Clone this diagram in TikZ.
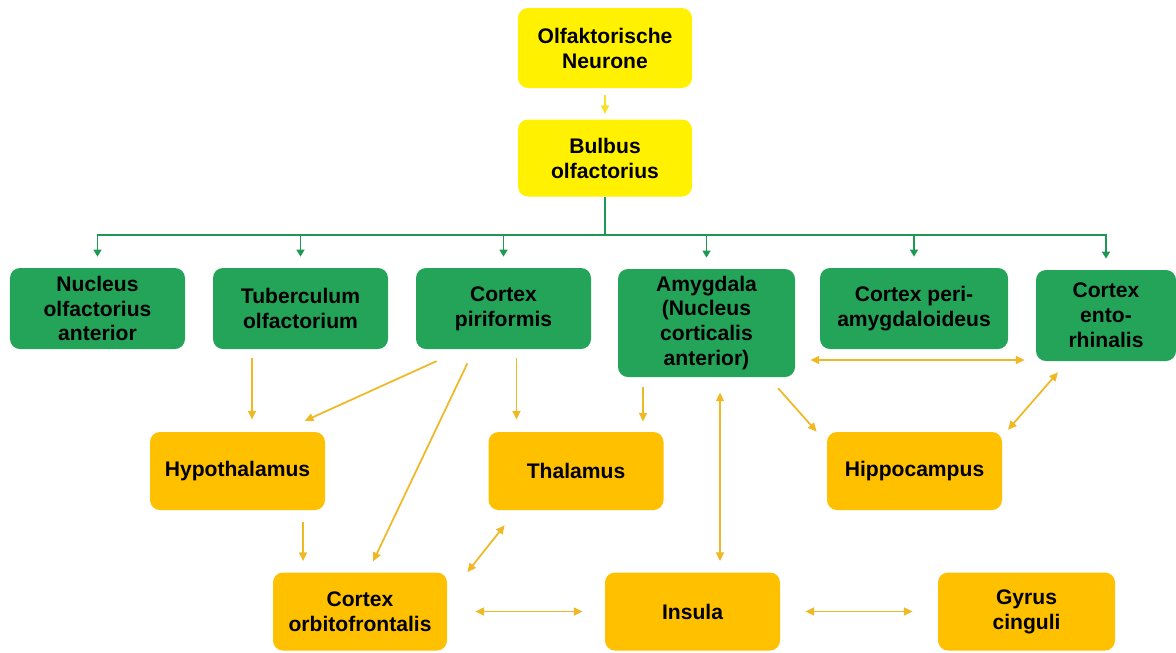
\documentclass[tikz,border=0pt]{standalone}
\usepackage{fontspec}
\setmainfont{Liberation Sans}
\usepackage{tikz}
\usetikzlibrary{
        arrows.meta,
        positioning
    }
\definecolor{boxyellow}{RGB}{255,241,0}
\definecolor{boxgreen}{RGB}{35,164,88}
\definecolor{boxorange}{RGB}{255,192,0}
\definecolor{linegreen}{RGB}{30,152,82}
\definecolor{lineorange}{RGB}{238,184,38}
\definecolor{lineyellow}{RGB}{245,225,40}

\begin{document}
\begin{tikzpicture}
[baseshape/.style={minimum width=3.5cm, minimum height=1.62cm, text centered, align=center, inner sep=2pt, rounded corners=0.2cm, font=\fontsize{12}{14.2}\selectfont\bfseries},
yelbox/.style={baseshape, fill=boxyellow},
grnbox/.style={baseshape, fill=boxgreen},
orgbox/.style={baseshape, minimum height=1.56cm, fill=boxorange},
>={Triangle[length=5pt,width=4.5pt]},
yarrow/.style={draw=lineyellow, line width=0.9pt, ->},
garrow/.style={draw=linegreen, line width=1.1pt, -{Triangle[length=4pt,width=4.5pt]}},
oarrow/.style={draw=lineorange, line width=1pt, ->},
oboth/.style={draw=lineorange, line width=1pt, <->},
node distance=4.06cm]
    \useasboundingbox (0,0) rectangle (23.52,-13.04);
    \node (neur) [yelbox, minimum width=3.48cm, minimum height=1.6cm] at (12.1,-0.96) {Olfaktorische\\Neurone};
    \node (bulb) [yelbox, minimum width=3.48cm, minimum height=1.54cm, node distance=2.2cm, below of=neur] {Bulbus\\olfactorius};
    \node (nuc) [grnbox] at (1.95,-6.17) {Nucleus\\olfactorius\\anterior};
    \node (tub) [grnbox, right of=nuc] {Tuberculum\\olfactorium};
    \node (pir) [grnbox, right of=tub] {Cortex\\piriformis};
    \node (amy) [grnbox, right of=pir, yshift=-0.29cm, minimum width=3.54cm, minimum height=2.16cm] {Amygdala\\(Nucleus\\corticalis\\anterior)};
    \node (peri) [grnbox, right of=pir, xshift=4.15cm, minimum width=3.76cm] {Cortex peri-\\amygdaloideus};
    \node (ento) [grnbox, right of=peri, xshift=-0.22cm, yshift=-0.14cm, minimum width=2.8cm, minimum height=1.82cm] {Cortex\\ento-\\rhinalis};
    \node (hypo) [orgbox] at (4.75,-9.42) {Hypothalamus};
    \node (thal) [orgbox, right of=hypo, xshift=2.71cm] {Thalamus};
    \node (hippo) [orgbox, right of=thal, xshift=2.71cm] {Hippocampus};
    \node (orbi) [orgbox, minimum width=3.48cm] at (7.2,-12.23) {Cortex\\orbitofrontalis};
    \node (insu) [orgbox, right of=orbi, xshift=2.59cm] {Insula};
    \node (gyr) [orgbox, minimum width=3.54cm, right of=insu, xshift=2.62cm] {Gyrus\\cinguli};
    \draw[yarrow, shorten <=0.14cm, shorten >=0.1cm] (neur) -- (bulb);
    \draw[draw=linegreen, line width=1.1pt] (bulb.south) -- ++(0,-0.76) coordinate (bus);
    \foreach \n in {nuc,tub,pir,amy,peri,ento}
        \draw[garrow, shorten >=0.22cm] (bus) -| (\n.north);
    \draw[oarrow, shorten <=0.18cm, shorten >=0.24cm] ([xshift=-0.97cm]tub.south) -- ([xshift=-0.97cm]tub.south |- hypo.north);
    \draw[oarrow, shorten <=0.57cm, shorten >=0.52cm] ([xshift=-0.82cm]pir.south) -- ([xshift=0.87cm]hypo.north);
    \draw[oarrow, shorten <=0.31cm, shorten >=0.24cm] ([xshift=-0.59cm]pir.south) -- ([xshift=0.16cm]orbi.north);
    \draw[oarrow, shorten <=0.18cm, shorten >=0.24cm] ([xshift=0.26cm]pir.south) -- ([xshift=0.26cm]pir.south |- thal.north);
    \draw[oarrow, shorten <=0.2cm, shorten >=0.2cm] ([xshift=-1.27cm]amy.south) -- ([xshift=-1.27cm]amy.south |- thal.north);
    \draw[oboth, shorten <=0.22cm, shorten >=0.3cm] ([xshift=0.55cm]insu.north) -- ([xshift=0.55cm]insu.north |- amy.south);
    \draw[oarrow, shorten <=0.29cm] ([xshift=1.24cm]amy.south) -- ([xshift=-0.2cm]hippo.north west);
    \draw[oboth, shorten <=0.3cm, shorten >=0.22cm] ([yshift=-0.74cm]amy.east) -- ([yshift=-0.74cm]amy.east -| ento.west);
    \draw[oboth, shorten <=0.29cm, shorten >=0.05cm] ([xshift=-0.77cm]ento.south) -- ([xshift=0.08cm]hippo.north east);
    \draw[oarrow, shorten <=0.24cm, shorten >=0.22cm] ([xshift=1.31cm]hypo.south) -- ([xshift=1.31cm]hypo.south |- orbi.north);
    \draw[oboth, shorten <=0.38cm] ([xshift=-1.19cm]thal.south) -- ([xshift=0.4cm]orbi.north east);
    \draw[oboth, shorten <=0.56cm, shorten >=0.44cm] (orbi.east) -- (insu.west);
    \draw[oboth, shorten <=0.5cm, shorten >=0.5cm] (insu.east) -- (gyr.west);
\end{tikzpicture}
\end{document}
